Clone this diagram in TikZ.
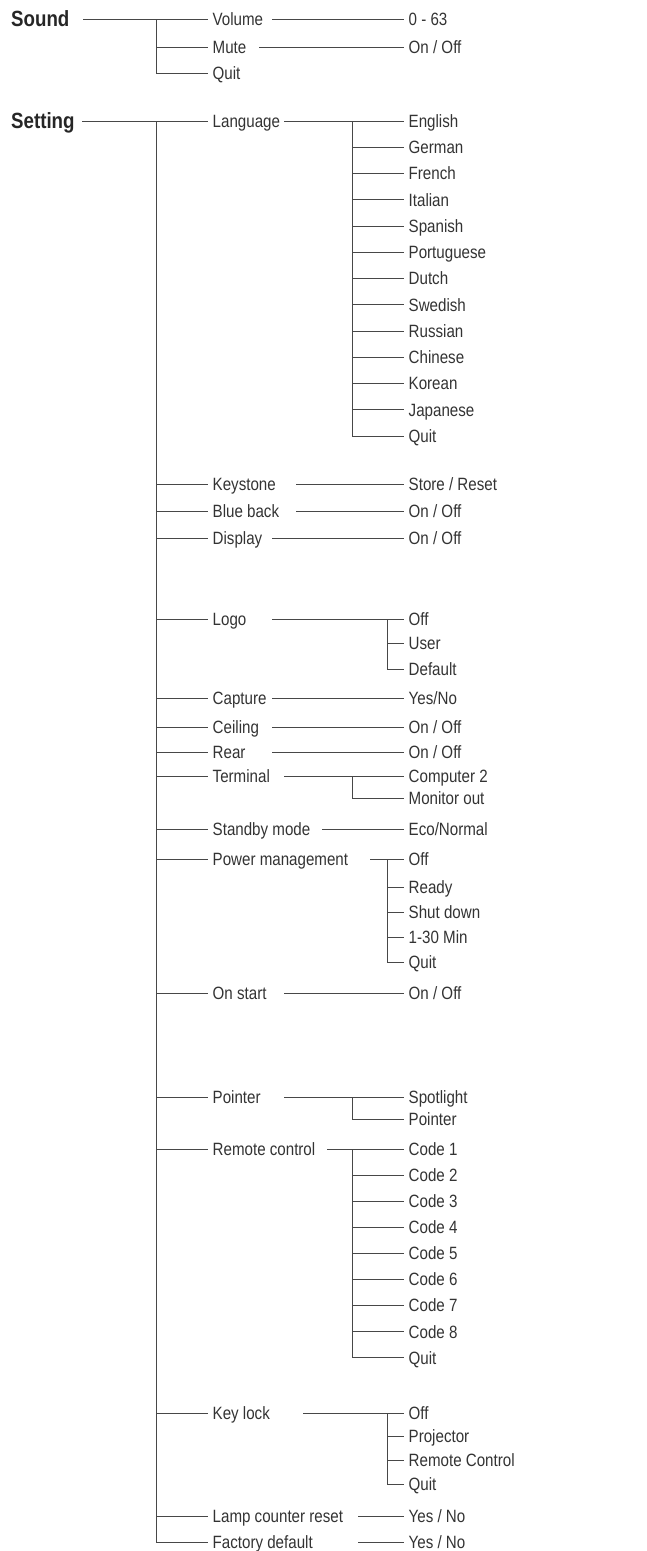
\documentclass[tikz,border=0pt]{standalone}
\usepackage{fontspec}
\setmainfont{Liberation Sans}[FakeStretch=0.85]
\usetikzlibrary{positioning}
\tikzset{it/.style={anchor=west,font=\fontsize{17.8}{17.8}\selectfont,text=black!80,inner xsep=4.5pt,inner ysep=0pt,text height=12.7pt,text depth=0pt},
 hd/.style={it,font=\fontsize{22}{22}\selectfont\bfseries,text=black!85,text height=15.7pt,inner xsep=0pt},
 ln/.style={draw=black!72,line width=0.9pt}}
\begin{document}
\begin{tikzpicture}[x=1pt,y=-1pt]
\useasboundingbox (0,0) rectangle (646,1551);
\coordinate (tk) at (156,0);\coordinate (sa) at (352,0);\coordinate (sb) at (387,0);
\node[hd](snd) at (11,19){Sound};\node[hd](set) at (11,121){Setting};
\node[it](vol) at (208,19){Volume};\node[it](mute) at (208,47){Mute};\node[it](squit) at (208,73){Quit};
\node[it](v0) at (404,19){0 - 63};\node[it](v1) at (404,47){On / Off};
\draw[ln](83,0 |- snd)--(vol.west);\draw[ln](tk |- vol)|-(squit.west);\draw[ln](tk |- mute)--(mute.west);
\draw[ln](272,0 |- vol)--(v0.west);\draw[ln](259,0 |- mute)--(v1.west);
\node[it](lang) at (208,121){Language};\draw[ln](82,0 |- set)--(lang.west);\draw[ln](284,0 |- lang)--(404,0 |- lang);
\foreach \t[count=\i from 0] in {English,German,French,Italian,Spanish,Portuguese,Dutch,Swedish,Russian,Chinese,Korean,Japanese,Quit}{\node[it](la\i) at (404,{121+26.25*\i}){\t};\draw[ln](sa |- la\i)--(la\i.west);}
\draw[ln](sa |- la0)--(sa |- la12);
\node[it](key) at (208,484){Keystone};\node[it](vkey) at (404,484){Store / Reset};\draw[ln](296,0 |- key)--(vkey.west);
\node[it](blue) at (208,511){Blue back};\node[it](vblue) at (404,511){On / Off};\draw[ln](296,0 |- blue)--(vblue.west);
\node[it](disp) at (208,538){Display};\node[it](vdisp) at (404,538){On / Off};\draw[ln](272,0 |- disp)--(vdisp.west);
\node[it](logo) at (208,619){Logo};\node[it](lg0) at (404,619){Off};\node[it](lg1) at (404,643){User};\node[it](lg2) at (404,669){Default};
\draw[ln](272,0 |- logo)--(lg0.west);\draw[ln](sb |- lg0)|-(lg2.west);\draw[ln](sb |- lg1)--(lg1.west);
\node[it](cap) at (208,698){Capture};\node[it](vcap) at (404,698){Yes/No};\draw[ln](272,0 |- cap)--(vcap.west);
\node[it](ceil) at (208,727){Ceiling};\node[it](vceil) at (404,727){On / Off};\draw[ln](272,0 |- ceil)--(vceil.west);
\node[it](rear) at (208,752){Rear};\node[it](vrear) at (404,752){On / Off};\draw[ln](272,0 |- rear)--(vrear.west);
\node[it](term) at (208,776){Terminal};\node[it](tm0) at (404,776){Computer 2};\node[it](tm1) at (404,798){Monitor out};
\draw[ln](284,0 |- term)--(tm0.west);\draw[ln](sa |- tm0)|-(tm1.west);
\node[it](stby) at (208,829){Standby mode};\node[it](vstby) at (404,829){Eco/Normal};\draw[ln](322,0 |- stby)--(vstby.west);
\node[it](pow) at (208,859){Power management};
\foreach \t/\y[count=\i from 0] in {Off/859,Ready/887,Shut down/912,1-30 Min/937,Quit/962}{\node[it](pw\i) at (404,\y){\t};\draw[ln](sb |- pw\i)--(pw\i.west);}
\draw[ln](370,0 |- pow)--(pw0.west);\draw[ln](sb |- pw0)--(sb |- pw4);
\node[it](onst) at (208,993){On start};\node[it](vonst) at (404,993){On / Off};\draw[ln](284,0 |- onst)--(vonst.west);
\node[it](ptr) at (208,1097){Pointer};\node[it](pt0) at (404,1097){Spotlight};\node[it](pt1) at (404,1119){Pointer};
\draw[ln](284,0 |- ptr)--(pt0.west);\draw[ln](sa |- pt0)|-(pt1.west);
\node[it](rem) at (208,1149){Remote control};
\foreach \t[count=\i from 0] in {Code 1,Code 2,Code 3,Code 4,Code 5,Code 6,Code 7,Code 8,Quit}{\node[it](rc\i) at (404,{1149+26.1*\i}){\t};\draw[ln](sa |- rc\i)--(rc\i.west);}
\draw[ln](327,0 |- rem)--(rc0.west);\draw[ln](sa |- rc0)--(sa |- rc8);
\node[it](kl) at (208,1413){Key lock};
\foreach \t/\y[count=\i from 0] in {Off/1413,Projector/1436,Remote Control/1460,Quit/1484}{\node[it](kl\i) at (404,\y){\t};\draw[ln](sb |- kl\i)--(kl\i.west);}
\draw[ln](303,0 |- kl)--(kl0.west);\draw[ln](sb |- kl0)--(sb |- kl3);
\node[it](lamp) at (208,1516){Lamp counter reset};\node[it](vlamp) at (404,1516){Yes / No};\draw[ln](358,0 |- lamp)--(vlamp.west);
\node[it](fact) at (208,1542){Factory default};\node[it](vfact) at (404,1542){Yes / No};\draw[ln](358,0 |- fact)--(vfact.west);
\draw[ln](tk |- lang)|-(fact.west);
\foreach \n in {key,blue,disp,logo,cap,ceil,rear,term,stby,pow,onst,ptr,rem,kl,lamp}{\draw[ln](tk |- \n)--(\n.west);}
\end{tikzpicture}
\end{document}
